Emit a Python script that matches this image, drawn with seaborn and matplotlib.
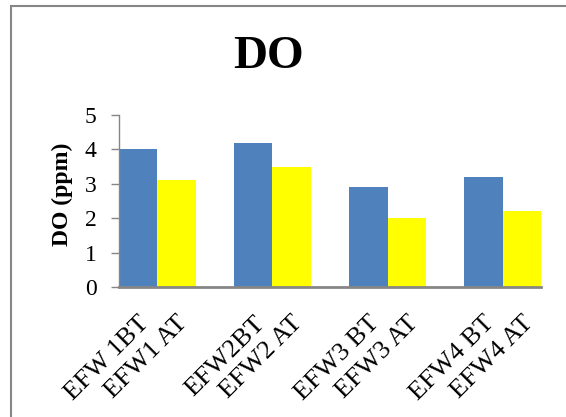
import matplotlib
matplotlib.use("Agg")
import matplotlib.pyplot as plt
import matplotlib.patches as mpatches
import matplotlib.transforms as mtransforms
import numpy as np
import pandas as pd
import seaborn as sns

# Dissolved oxygen before (BT) and after (AT) treatment at four sites
sites = ["EFW1", "EFW2", "EFW3", "EFW4"]
labels_bt = ["EFW 1BT", "EFW2BT", "EFW3 BT", "EFW4 BT"]
labels_at = ["EFW1 AT", "EFW2 AT", "EFW3 AT", "EFW4 AT"]
do_bt = [4.0, 4.2, 2.9, 3.2]
do_at = [3.1, 3.5, 2.0, 2.2]
y_ticks = [0, 1, 2, 3, 4, 5]

sns.set_theme(style="white")
plt.rcParams["font.family"] = ["Liberation Serif", "DejaVu Serif"]
plt.rcParams["text.color"] = "black"
plt.rcParams["xtick.labelcolor"] = "black"
plt.rcParams["ytick.labelcolor"] = "black"

# each site gets two adjacent bars followed by a one-bar gap
rows = []
for g, site in enumerate(sites):
    rows.append({"pos": 3 * g, "value": do_bt[g], "phase": "BT", "label": labels_bt[g]})
    rows.append({"pos": 3 * g + 1, "value": do_at[g], "phase": "AT", "label": labels_at[g]})
df = pd.DataFrame(rows)

W, H = 566, 417
fig = plt.figure(figsize=(W / 100, H / 100), dpi=100)
ax = fig.add_axes([119 / W, 1 - 287 / H, (541 - 119) / W, (287 - 115) / H])

sns.barplot(data=df, x="pos", y="value", hue="phase", native_scale=True,
            dodge=False, width=1.0, palette={"BT": "#4F81BD", "AT": "#FFFF00"},
            saturation=1, linewidth=0, legend=False, errorbar=None, ax=ax)

ax.set_xlim(-0.5, 10.5)
ax.set_ylim(0, 5)
ax.set_yticks(y_ticks)
ax.set_yticklabels([str(t) for t in y_ticks], fontsize=17, color="black")
ax.set_xticks(df["pos"])
ax.set_xticklabels(df["label"], rotation=45, ha="right", va="top",
                   rotation_mode="anchor", fontsize=19, color="black")
ax.set_xlabel("")
ax.set_ylabel("")

# nudge the slanted category labels slightly left
shift = mtransforms.ScaledTranslation(-4 / 100, 0, fig.dpi_scale_trans)
for lbl in ax.get_xticklabels():
    lbl.set_transform(lbl.get_transform() + shift)

gray = "#868686"
for side in ["top", "right"]:
    ax.spines[side].set_visible(False)
ax.spines["left"].set_color(gray)
ax.spines["left"].set_linewidth(1.0)
ax.spines["bottom"].set_color(gray)
ax.spines["bottom"].set_linewidth(2.0)
ax.tick_params(axis="y", direction="out", length=6, width=1, color=gray,
               pad=10, left=True)
ax.tick_params(axis="x", length=0, pad=18)

fig.text(268 / W, 1 - 57 / H, "DO", ha="center", va="center",
         fontsize=34, fontweight="bold", color="black")
fig.text(62 / W, 1 - 194 / H, "DO (ppm)", ha="center", va="center",
         rotation=90, fontsize=17, fontweight="bold", color="black")

# chart-area frame
frame = mpatches.Rectangle((11 / W, -0.2), 1.5, 1.2 - 6 / H,
                           transform=fig.transFigure, fill=False,
                           edgecolor=gray, linewidth=1.5)
fig.patches.append(frame)

fig.savefig("out.png", dpi=100)
